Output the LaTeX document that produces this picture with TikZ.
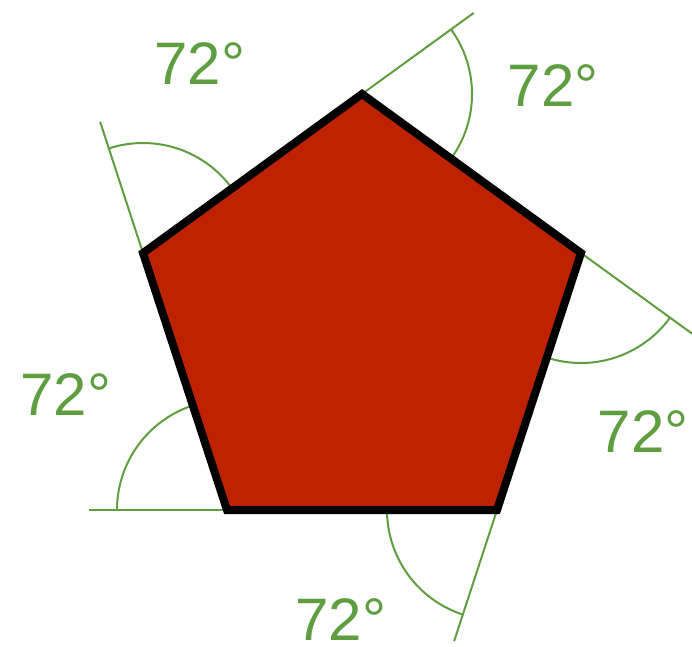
\documentclass[tikz,border=0pt]{standalone}
\usepackage{fontspec}
\setmainfont{Liberation Sans}
\usetikzlibrary{calc}
\definecolor{lgreen}{RGB}{94,158,64}
\definecolor{pred}{RGB}{191,34,0}
\begin{document}
\begin{tikzpicture}[x=1pt,y=-1pt,
  ext/.style={draw=lgreen,line width=2pt},
  arcline/.style={draw=lgreen,line width=2pt},
  lab/.style={text=lgreen,font=\fontsize{60}{60}\selectfont,inner sep=0pt,text depth=0pt,anchor=center}]
\useasboundingbox (0,0) rectangle (692,646);
% vertices
\coordinate (T) at (362,94);
\coordinate (R) at (581,253);
\coordinate (BR) at (497,510);
\coordinate (BL) at (227,510);
\coordinate (L) at (143,253);
% extension end points
\coordinate (eBL) at ($(BL)!-138pt!(BR)$);
\coordinate (eL) at ($(L)!-138pt!(BL)$);
\coordinate (eT) at ($(T)!-138pt!(L)$);
\coordinate (eR) at ($(R)!-138pt!(T)$);
\coordinate (eBR) at ($(BR)!-138pt!(R)$);
\draw[ext] (BL) -- (eBL);
\draw[ext] (L) -- (eL);
\draw[ext] (T) -- (eT);
\draw[ext] (R) -- (eR);
\draw[ext] (BR) -- (eBR);
% arcs
\draw[arcline] ($(BL)+(-110,0)$) arc[start angle=180,end angle=252,radius=110];
\draw[arcline] ($(L)+({110*cos(252)},{110*sin(252)})$) arc[start angle=252,end angle=324,radius=110];
\draw[arcline] ($(T)+({110*cos(324)},{110*sin(324)})$) arc[start angle=324,end angle=396,radius=110];
\draw[arcline] ($(R)+({110*cos(36)},{110*sin(36)})$) arc[start angle=36,end angle=108,radius=110];
\draw[arcline] ($(BR)+({110*cos(108)},{110*sin(108)})$) arc[start angle=108,end angle=180,radius=110];
% pentagon
\draw[fill=pred,draw=black,line width=8pt,line join=miter] (T) -- (R) -- (BR) -- (BL) -- (L) -- cycle;
% labels
\node[lab] (l1) at (200,64) {72°};
\node[lab] (l2) at (553,86) {72°};
\node[lab] (l3) at (66,395) {72°};
\node[lab] (l4) at (643,432) {72°};
\node[lab] (l5) at (341,620) {72°};
\end{tikzpicture}
\end{document}
